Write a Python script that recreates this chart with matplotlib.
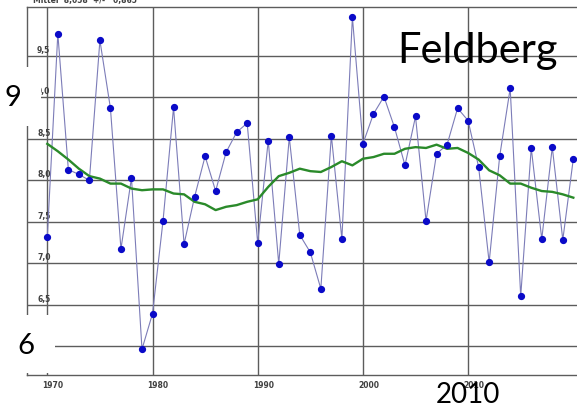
import matplotlib
matplotlib.use("Agg")
import matplotlib.pyplot as plt
import matplotlib.transforms as mtransforms
from matplotlib.patches import Rectangle

years = list(range(1970, 2021))
annual = [7.32, 9.77, 8.13, 8.07, 8.00, 9.69, 8.87, 7.17, 8.03, 5.96,
          6.39, 7.51, 8.88, 7.23, 7.80, 8.29, 7.87, 8.34, 8.58, 8.69,
          7.24, 8.48, 6.99, 8.52, 7.34, 7.13, 6.69, 8.54, 7.29, 9.97,
          8.44, 8.80, 9.01, 8.64, 8.18, 8.77, 7.51, 8.32, 8.43, 8.87,
          8.72, 8.16, 7.01, 8.29, 9.11, 6.60, 8.39, 7.29, 8.40, 7.28, 8.26]
smooth = [8.44, 8.35, 8.25, 8.14, 8.05, 8.02, 7.96, 7.96, 7.90, 7.88,
          7.89, 7.89, 7.84, 7.83, 7.74, 7.71, 7.64, 7.68, 7.70, 7.74,
          7.77, 7.92, 8.05, 8.09, 8.14, 8.11, 8.10, 8.16, 8.23, 8.18,
          8.26, 8.28, 8.32, 8.32, 8.38, 8.40, 8.39, 8.43, 8.38, 8.39,
          8.33, 8.25, 8.12, 8.06, 7.96, 7.96, 7.91, 7.87, 7.86, 7.83, 7.79]
x_ticks = [1970, 1980, 1990, 2000, 2010]
y_ticks = [6.0, 6.5, 7.0, 7.5, 8.0, 8.5, 9.0, 9.5]
y_labels = ["6,0", "6,5", "7,0", "7,5", "8,0", "8,5", "9,0", "9,5"]
header = "Mittel  8,058  +/-   0,865"
station = "Feldberg"

W, H = 577, 408
fig = plt.figure(figsize=(W / 100, H / 100), dpi=100)
fig.patch.set_facecolor("white")
ax = fig.add_axes([27 / W, (H - 375) / H, (W - 27) / W, (375 - 7) / H])
ax.set_xlim(1968.07, 2020.35)
ax.set_ylim(5.649, 10.092)

gridc = "#5c5c5c"
ax.set_xticks(x_ticks)
ax.set_yticks(y_ticks)
ax.grid(True, color=gridc, linewidth=1.0)
ax.set_axisbelow(True)
for s in ["left", "bottom", "top"]:
    ax.spines[s].set_color(gridc)
    ax.spines[s].set_linewidth(1.0)
ax.spines["right"].set_visible(False)
ax.tick_params(length=0)
ax.set_yticklabels([])
ax.set_xticklabels([str(x) for x in x_ticks], fontsize=5.5, fontweight="bold",
                   color="#404040")
ax.tick_params(axis="x", pad=4)
off = mtransforms.ScaledTranslation(-0.05, 0, fig.dpi_scale_trans)
for lab in ax.get_xticklabels():
    lab.set_horizontalalignment("left")
    lab.set_transform(lab.get_transform() + off)

ytr = ax.get_yaxis_transform() + mtransforms.ScaledTranslation(0.10, 0.01, fig.dpi_scale_trans)
for v, t in zip(y_ticks, y_labels):
    ax.text(0, v, t, transform=ytr, fontsize=5.5, fontweight="bold",
            color="#404040", ha="left", va="bottom")

ax.plot(years, annual, color="#7c7cb8", linewidth=0.8, zorder=3)
ax.plot(years, annual, linestyle="none", marker="o", markersize=4.2,
        color="#0a0ac8", zorder=5)
ax.plot(years, smooth, color="#2a8a2a", linewidth=1.7, zorder=4)

fig.text(33 / W, 1 - 1 / H, header, fontsize=5.5, fontweight="bold",
         color="#404040", ha="left", va="center")

# white label boxes and large overlay texts
for (x0, y0, x1, y1) in [(0, 67, 41, 126), (0, 315, 55, 373)]:
    fig.add_artist(Rectangle((x0 / W, 1 - y1 / H), (x1 - x0) / W, (y1 - y0) / H,
                             transform=fig.transFigure, facecolor="white",
                             edgecolor="none", zorder=10))
big = dict(family="Lato", color="black", zorder=11)
fig.text(12.5 / W, 1 - 97.5 / H, "9", fontsize=21, ha="center", va="center", **big)
fig.text(26 / W, 1 - 346 / H, "6", fontsize=21, ha="center", va="center", **big)
fig.text(468 / W, 1 - 395 / H, "2010", fontsize=20, ha="center", va="center", **big)
fig.text(397 / W, 1 - 63 / H, station, fontsize=30, ha="left", va="baseline", **big)

fig.savefig("out.png", dpi=100)
